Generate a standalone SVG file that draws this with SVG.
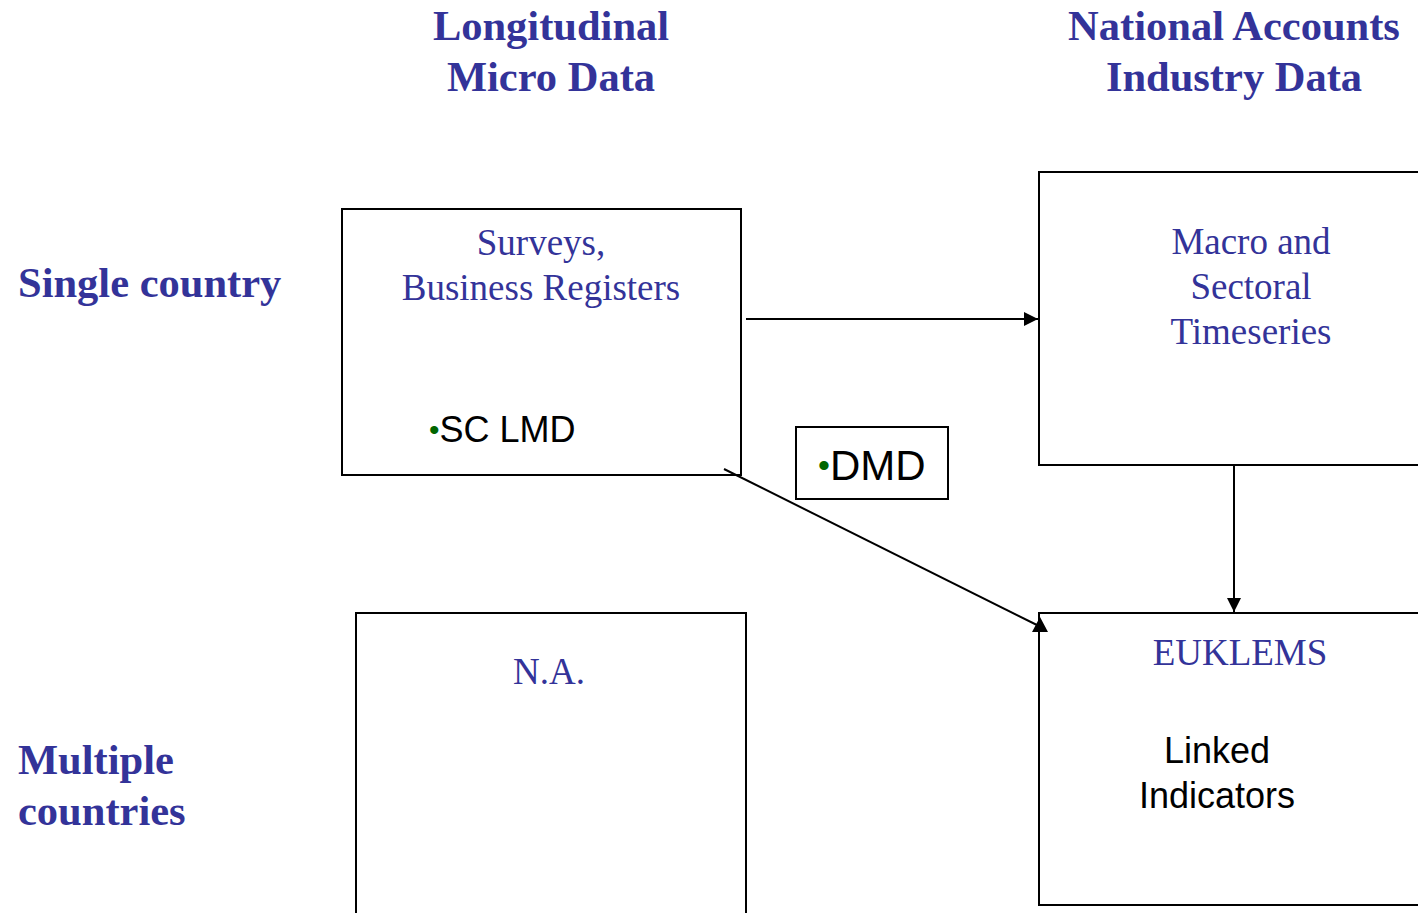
<svg xmlns="http://www.w3.org/2000/svg" width="1418" height="913" viewBox="0 0 1418 913">
<style>
.box{fill:#fff;stroke:#000;stroke-width:2}
.hd{font-family:"Liberation Serif",serif;font-weight:bold;font-size:42.5px;fill:#333399}
.lb{font-family:"Liberation Serif",serif;font-size:37px;fill:#333399;text-anchor:middle}
.sn{font-family:"Liberation Sans",sans-serif;font-size:36px;fill:#000}
.bul{fill:#006600}
.ln{stroke:#000;stroke-width:2;fill:none}
</style>
<defs>
<marker id="ah" viewBox="0 0 10 10" refX="10" refY="5" markerWidth="15" markerHeight="14" markerUnits="userSpaceOnUse" orient="auto">
<path d="M0,0 L10,5 L0,10 z" fill="#000"/>
</marker>
</defs>
<rect width="1418" height="913" fill="#fff"/>
<g id="headers">
<text class="hd" x="551" y="40" text-anchor="middle">Longitudinal</text>
<text class="hd" x="551" y="91" text-anchor="middle">Micro Data</text>
<text class="hd" x="1234" y="40" text-anchor="middle">National Accounts</text>
<text class="hd" x="1234" y="91" text-anchor="middle">Industry Data</text>
<text class="hd" x="18" y="297">Single country</text>
<text class="hd" x="18" y="774">Multiple</text>
<text class="hd" x="18" y="825">countries</text>
</g>
<g id="surveys">
<rect class="box" x="342" y="209" width="399" height="266"/>
<text class="lb" x="541" y="255">Surveys,</text>
<text class="lb" x="541" y="300">Business Registers</text>
<text class="sn" x="429" y="442"><tspan class="bul" style="font-size:30px" dy="-2">•</tspan><tspan dy="2">SC LMD</tspan></text>
</g>
<g id="macro">
<rect class="box" x="1039" y="172" width="400" height="293"/>
<text class="lb" x="1251" y="254">Macro and</text>
<text class="lb" x="1251" y="299">Sectoral</text>
<text class="lb" x="1251" y="344">Timeseries</text>
</g>
<g id="na">
<rect class="box" x="356" y="613" width="390" height="320"/>
<text class="lb" x="549" y="684">N.A.</text>
</g>
<g id="euklems">
<rect class="box" x="1039" y="613" width="400" height="292"/>
<text class="lb" x="1240" y="665">EUKLEMS</text>
<text class="sn" x="1217" y="763" text-anchor="middle">Linked</text>
<text class="sn" x="1217" y="808" text-anchor="middle">Indicators</text>
</g>
<g id="dmd">
<rect class="box" x="796" y="427" width="152" height="72"/>
<text class="sn" x="818" y="480" style="font-size:42px"><tspan class="bul" style="font-size:34px" dy="-3">•</tspan><tspan dy="3">DMD</tspan></text>
</g>
<g id="connectors">
<line class="ln" x1="746" y1="319" x2="1038" y2="319" marker-end="url(#ah)"/>
<line class="ln" x1="1234" y1="466" x2="1234" y2="612" marker-end="url(#ah)"/>
<line class="ln" x1="724" y1="469" x2="1045" y2="629"/>
<path d="M1032,632 L1040,617 L1048,632 z" fill="#000"/>
</g>
</svg>
